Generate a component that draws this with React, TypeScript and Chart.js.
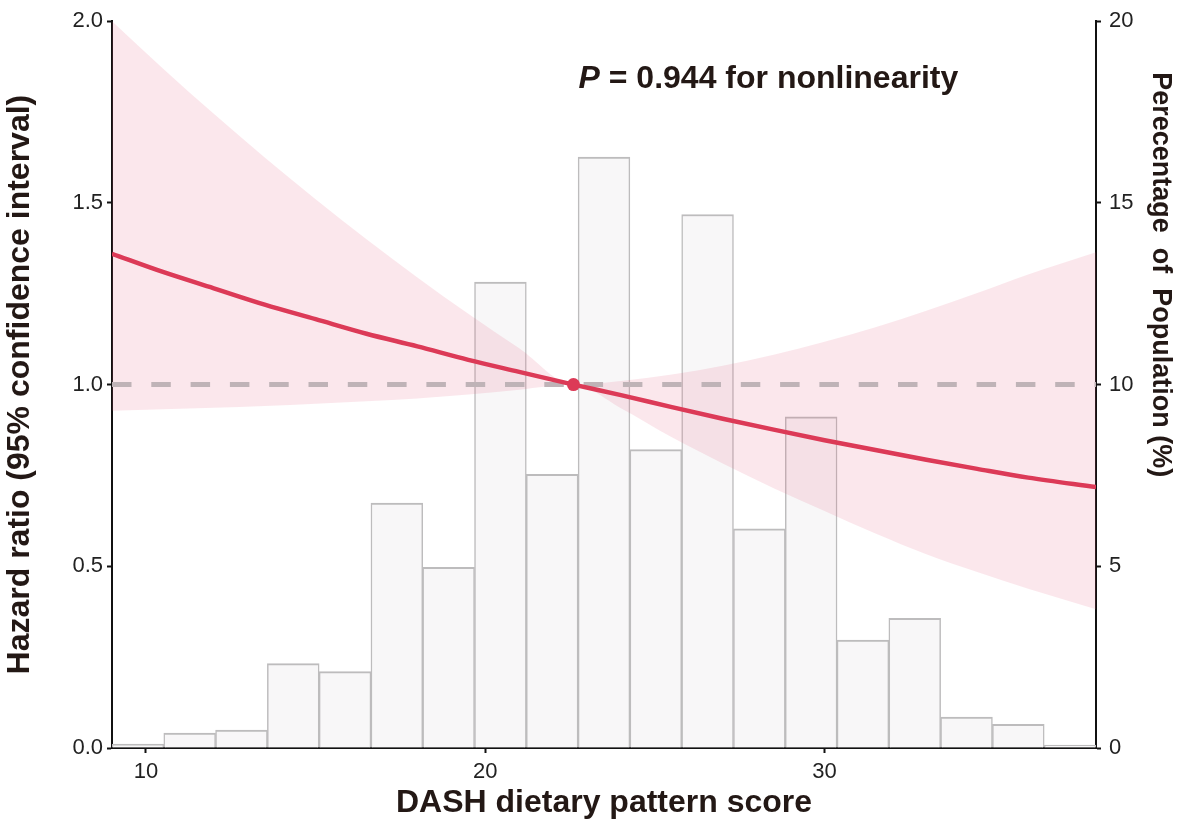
import { useEffect, useRef } from "react";
import { Chart, registerables } from "chart.js";

Chart.register(...registerables);

const FONT = "'Liberation Sans', Arial, Helvetica, sans-serif";
const RED = "#DC3A57";
const INK = "#231815";

// histogram (right axis, % of population)
const binLabels = ["9.0", "10.5", "12.1", "13.6", "15.1", "16.6", "18.2", "19.7", "21.2", "22.7", "24.3", "25.8", "27.3", "28.8", "30.4", "31.9", "33.4", "34.9", "36.5"];
const binPercent = [0.11, 0.41, 0.49, 2.32, 2.1, 6.74, 4.97, 12.82, 7.53, 16.26, 8.21, 14.68, 6.03, 9.11, 2.97, 3.57, 0.85, 0.65, 0.08];

// hazard ratio curve and 95% CI (left axis)
const scoreX = [9, 10.5, 12, 13.5, 15, 16.5, 18, 19.5, 21, 22.6, 24, 25.5, 27, 28.5, 30, 31.5, 33, 34.5, 36, 38];
const hrValue = [1.36, 1.31, 1.265, 1.22, 1.18, 1.14, 1.105, 1.068, 1.035, 1.0, 0.971, 0.938, 0.906, 0.876, 0.847, 0.82, 0.793, 0.768, 0.744, 0.718];
const hrUpper = [2.0, 1.87, 1.745, 1.625, 1.51, 1.4, 1.295, 1.195, 1.1, 1.0, 1.01, 1.028, 1.052, 1.082, 1.118, 1.158, 1.203, 1.252, 1.303, 1.364];
const hrLower = [0.928, 0.932, 0.936, 0.941, 0.947, 0.954, 0.962, 0.973, 0.986, 1.0, 0.935, 0.855, 0.783, 0.715, 0.652, 0.59, 0.533, 0.484, 0.438, 0.382];
const refPoint = { x: 22.6, y: 1.0 };

const xTicks = [10, 20, 30];
const yTicks = [0, 0.5, 1.0, 1.5, 2.0];
const y2Ticks = [0, 5, 10, 15, 20];

const pts = (ys: number[]) => scoreX.map((x, i) => ({ x, y: ys[i] }));

const textPlugin = {
  id: "extraText",
  afterDraw(chart: any) {
    const { ctx, chartArea, scales } = chart;
    ctx.save();
    ctx.fillStyle = INK;
    // P annotation
    const px = scales.x.getPixelForValue(22.75);
    const py = scales.y.getPixelForValue(1.817);
    ctx.textBaseline = "alphabetic";
    ctx.textAlign = "left";
    ctx.font = `italic bold 32px ${FONT}`;
    ctx.fillText("P", px, py);
    const w = ctx.measureText("P").width;
    ctx.font = `bold 32px ${FONT}`;
    ctx.fillText(" = 0.944 for nonlinearity", px + w, py);
    // right axis title
    ctx.translate(chartArea.right + 64, chartArea.top + 51);
    ctx.rotate(Math.PI / 2);
    ctx.font = `bold 27px ${FONT}`;
    ctx.textBaseline = "middle";
    ctx.fillText("Perecentage  of  Population (%)", 0, 0);
    ctx.restore();
  },
};

const axisBase = {
  offset: false,
  grid: { offset: false, drawOnChartArea: false, drawTicks: true, tickLength: 5, tickWidth: 2, tickColor: "#111" },
  border: { display: true, color: "#111", width: 2 },
};

export default function App() {
  const canvasRef = useRef<HTMLCanvasElement>(null);
  const chartRef = useRef<Chart | null>(null);

  useEffect(() => {
    document.body.style.margin = "0";
    if (!canvasRef.current) return;
    const ctx = canvasRef.current.getContext("2d");
    if (!ctx) return;

    chartRef.current = new Chart(ctx, {
      type: "bar",
      data: {
        labels: binLabels,
        datasets: [
          {
            type: "bar",
            data: binPercent,
            xAxisID: "xb",
            yAxisID: "y2",
            backgroundColor: "#F8F7F8",
            borderColor: "#BDBCBD",
            borderWidth: { top: 2, left: 1.5, right: 1.5, bottom: 0 },
            barPercentage: 1,
            categoryPercentage: 1,
            grouped: false,
            order: 6,
          },
          {
            type: "line",
            data: pts(hrUpper),
            xAxisID: "x",
            yAxisID: "y",
            borderWidth: 0,
            pointRadius: 0,
            fill: "+1",
            backgroundColor: "rgba(226, 95, 125, 0.15)",
            cubicInterpolationMode: "monotone",
            order: 5,
          },
          {
            type: "line",
            data: pts(hrLower),
            xAxisID: "x",
            yAxisID: "y",
            borderWidth: 0,
            pointRadius: 0,
            fill: false,
            cubicInterpolationMode: "monotone",
            order: 5,
          },
          {
            type: "line",
            data: [
              { x: 9, y: 1 },
              { x: 38, y: 1 },
            ],
            xAxisID: "x",
            yAxisID: "y",
            borderColor: "#BFB3B7",
            borderWidth: 5,
            borderDash: [19.5, 19.8],
            pointRadius: 0,
            fill: false,
            order: 3,
          },
          {
            type: "line",
            data: pts(hrValue),
            xAxisID: "x",
            yAxisID: "y",
            borderColor: RED,
            borderWidth: 4.5,
            pointRadius: 0,
            fill: false,
            cubicInterpolationMode: "monotone",
            order: 2,
          },
          {
            type: "line",
            data: [refPoint],
            xAxisID: "x",
            yAxisID: "y",
            showLine: false,
            pointRadius: 6.5,
            pointBackgroundColor: RED,
            pointBorderWidth: 0,
            order: 1,
          },
        ],
      },
      options: {
        responsive: false,
        animation: false,
        layout: { padding: { top: 15, left: 0, right: 0, bottom: 0 } },
        plugins: { legend: { display: false }, tooltip: { enabled: false } },
        scales: {
          xb: { type: "category", display: false, offset: true },
          x: {
            ...axisBase,
            type: "linear",
            position: "bottom",
            min: 9,
            max: 38,
            afterBuildTicks: (s: any) => {
              s.ticks = xTicks.map((v) => ({ value: v }));
            },
            afterFit: (s: any) => {
              s.height = 83;
            },
            ticks: { font: { family: FONT, size: 22 }, color: "#222", padding: 6, maxRotation: 0 },
            title: {
              display: true,
              text: "DASH dietary pattern score",
              color: INK,
              font: { family: FONT, size: 32, weight: "bold" },
              padding: { top: 0, bottom: 9 },
            },
          },
          y: {
            ...axisBase,
            type: "linear",
            position: "left",
            min: 0,
            max: 2,
            afterBuildTicks: (s: any) => {
              s.ticks = yTicks.map((v) => ({ value: v }));
            },
            afterFit: (s: any) => {
              s.width = 112;
            },
            ticks: {
              font: { family: FONT, size: 22 },
              color: "#222",
              padding: 4,
              callback: (v: any) => Number(v).toFixed(1),
            },
            title: {
              display: true,
              text: "Hazard ratio (95% confidence interval)",
              color: INK,
              font: { family: FONT, size: 32, weight: "bold" },
              padding: { top: 1, bottom: 0 },
            },
          },
          y2: {
            ...axisBase,
            type: "linear",
            position: "right",
            min: 0,
            max: 20,
            afterBuildTicks: (s: any) => {
              s.ticks = y2Ticks.map((v) => ({ value: v }));
            },
            afterFit: (s: any) => {
              s.width = 97;
            },
            ticks: { font: { family: FONT, size: 22 }, color: "#222", padding: 8 },
          },
        },
      },
      plugins: [textPlugin],
    } as any);

    return () => {
      if (chartRef.current) {
        chartRef.current.destroy();
        chartRef.current = null;
      }
    };
  }, []);

  return <canvas ref={canvasRef} width={1193} height={831} style={{ display: "block" }} />;
}
